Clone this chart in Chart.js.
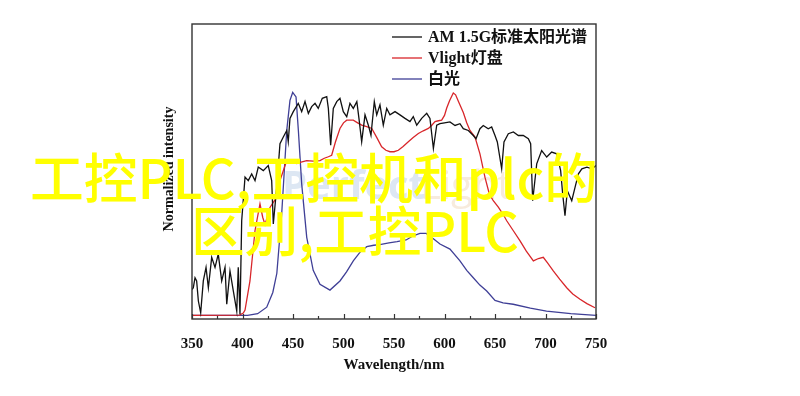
<!DOCTYPE html>
<html lang="zh">
<head>
<meta charset="UTF-8">
<title>AM 1.5G / Vlight / 白光</title>
<script src="https://cdn.jsdelivr.net/npm/chart.js@4.4.0/dist/chart.umd.min.js"></script>
<style>
    html, body { margin: 0; padding: 0; background: #fff; }
    #wrap { width: 800px; height: 396px; position: relative; }
</style>
</head>
<body>
<div id="wrap"><canvas id="spec" width="800" height="396"></canvas></div>
<script>
// wavelengths (nm) and normalized intensity
const amWl = [350, 351.3, 353, 354.6, 356.3, 358.6, 361.2, 363.9, 366.2, 369.5, 372.8, 376, 379.4, 382.7, 384.4, 387.6, 390.9, 394.3, 395.8, 397.5, 399.2, 402.5, 405.7, 409.1, 412.4, 415.6, 420.6, 425.5, 428.9, 430.5, 433.9, 437.1, 440.4, 443.8, 445.3, 447, 450.3, 455.2, 458.6, 461.9, 465.2, 468.5, 471.8, 475, 479, 483.4, 485, 487.3, 489.9, 493.3, 496.5, 499.8, 503.2, 506.4, 509.7, 513.2, 515.3, 518, 521.3, 524.6, 527.2, 530.5, 532.9, 536.1, 539.4, 542.8, 546, 551, 555.9, 560.9, 565.8, 569.1, 572.5, 577.4, 582.4, 585.6, 589, 592.3, 595.5, 600, 605.4, 610.4, 615.3, 618.6, 623.6, 628.5, 631.2, 635.1, 638.4, 643.3, 646.7, 650, 652.3, 656.6, 658.9, 663.2, 668.2, 673.1, 678, 683, 685.3, 687.3, 691.3, 696.2, 701.2, 706.1, 711.1, 715, 717, 719.3, 721.6, 726, 729.3, 732.6, 736, 741, 746, 750];
const amVal = [0.10, 0.106, 0.14, 0.129, 0.061, 0.021, 0.129, 0.175, 0.106, 0.209, 0.175, 0.22, 0.129, 0.175, 0.05, 0.163, 0.095, 0.027, 0.175, 0.016, 0.333, 0.481, 0.469, 0.492, 0.469, 0.515, 0.503, 0.52, 0.469, 0.322, 0.447, 0.594, 0.617, 0.639, 0.601, 0.68, 0.703, 0.731, 0.703, 0.737, 0.697, 0.72, 0.731, 0.714, 0.748, 0.754, 0.714, 0.589, 0.714, 0.737, 0.748, 0.703, 0.686, 0.731, 0.714, 0.737, 0.68, 0.601, 0.692, 0.657, 0.623, 0.737, 0.692, 0.726, 0.657, 0.714, 0.692, 0.703, 0.692, 0.68, 0.669, 0.686, 0.657, 0.68, 0.697, 0.68, 0.578, 0.657, 0.662, 0.665, 0.668, 0.656, 0.662, 0.645, 0.639, 0.622, 0.611, 0.645, 0.656, 0.645, 0.651, 0.622, 0.60, 0.509, 0.60, 0.628, 0.634, 0.622, 0.622, 0.611, 0.594, 0.401, 0.526, 0.571, 0.549, 0.566, 0.56, 0.503, 0.424, 0.35, 0.435, 0.401, 0.447, 0.492, 0.509, 0.515, 0.509, 0.52];

const vlWl = [350, 397, 400.8, 402.5, 407.4, 412.4, 417.3, 420, 422.3, 427.2, 433.9, 437.1, 443.8, 448, 453.7, 458, 463.6, 470, 476.7, 481, 485, 488.3, 492, 496.5, 500, 503.2, 509.7, 514, 518, 523, 528, 533, 537.8, 542, 546, 550, 554.3, 559, 564.2, 569, 574.1, 579, 584, 587, 590.6, 594, 597.2, 600, 602.2, 605, 608.7, 611, 613.5, 616, 618.6, 622, 625.2, 630.2, 635.1, 640.1, 644.4, 648.3, 653.3, 658, 661.6, 668, 674.8, 681, 688, 693, 697.8, 702, 707.7, 714, 721, 727, 734.2, 741, 749];
const vlVal = [0.012, 0.013, 0.02, 0.03, 0.129, 0.30, 0.39, 0.345, 0.32, 0.378, 0.413, 0.469, 0.537, 0.535, 0.527, 0.532, 0.537, 0.535, 0.537, 0.545, 0.55, 0.555, 0.60, 0.646, 0.665, 0.674, 0.674, 0.665, 0.657, 0.652, 0.646, 0.615, 0.584, 0.572, 0.567, 0.567, 0.572, 0.585, 0.601, 0.615, 0.629, 0.638, 0.646, 0.655, 0.669, 0.672, 0.674, 0.69, 0.715, 0.74, 0.766, 0.76, 0.74, 0.72, 0.70, 0.665, 0.639, 0.617, 0.56, 0.48, 0.424, 0.401, 0.379, 0.355, 0.333, 0.30, 0.265, 0.23, 0.197, 0.205, 0.209, 0.19, 0.163, 0.135, 0.106, 0.085, 0.067, 0.052, 0.038];

const wlWl = [350, 405, 415, 424, 430, 434, 438.8, 443.8, 447, 449.7, 453, 455.3, 458.6, 463.6, 470, 476.7, 486.6, 496.5, 503, 509.7, 516, 523, 530, 536, 545, 553, 562, 569, 575.7, 582, 585.6, 589, 595.5, 605.4, 615.3, 622, 628.5, 635, 641.8, 650, 658, 668, 685, 701, 725, 750];
const wlVal = [0.012, 0.012, 0.018, 0.04, 0.09, 0.155, 0.356, 0.639, 0.741, 0.768, 0.753, 0.64, 0.458, 0.277, 0.165, 0.118, 0.098, 0.129, 0.16, 0.197, 0.225, 0.245, 0.25, 0.252, 0.258, 0.262, 0.268, 0.282, 0.29, 0.29, 0.28, 0.272, 0.254, 0.237, 0.197, 0.165, 0.14, 0.115, 0.095, 0.063, 0.055, 0.05, 0.037, 0.027, 0.018, 0.012];

const seriesNames = ['AM 1.5G标准太阳光谱', 'Vlight灯盘', '白光'];
const xTicks = [350, 400, 450, 500, 550, 600, 650, 700, 750];

const serif = "'Liberation Serif', 'Noto Sans CJK SC', serif";
const colors = ['#111111', '#d8262a', '#3f3f96'];

function pts(xs, ys) {
    return xs.map((x, i) => ({ x: x, y: ys[i] }));
}

// box, inside ticks, legend, axis titles, watermark and overlay caption
const decor = {
    id: 'decor',
    beforeDatasetsDraw(chart) {
        const ctx = chart.ctx;
        ctx.save();
        ctx.font = "bold 40px 'Open Sans', sans-serif";
        ctx.textBaseline = 'middle';
        ctx.fillStyle = 'rgba(170, 195, 225, 0.4)';
        ctx.fillText('Perfect', 282, 188);
        ctx.fillStyle = 'rgba(235, 205, 170, 0.4)';
        ctx.font = "40px 'Open Sans', sans-serif";
        ctx.fillText('Light', 420, 188);
        ctx.restore();
    },
    afterDraw(chart) {
        const ctx = chart.ctx;
        const a = chart.chartArea;
        const xs = chart.scales.x;
        ctx.save();

        // frame
        ctx.strokeStyle = '#333';
        ctx.lineWidth = 1.4;
        ctx.strokeRect(a.left, a.top, a.right - a.left, a.bottom - a.top);

        // ticks pointing inward on the bottom axis
        ctx.lineWidth = 1.2;
        for (let v = 350; v <= 750; v += 25) {
            const px = Math.round(xs.getPixelForValue(v)) + 0.5;
            const len = v % 50 === 0 ? 5 : 3;
            ctx.beginPath();
            ctx.moveTo(px, a.bottom);
            ctx.lineTo(px, a.bottom - len);
            ctx.stroke();
        }

        // legend
        const rows = [37, 58, 79];
        ctx.textBaseline = 'middle';
        ctx.font = 'bold 16px ' + serif;
        rows.forEach((y, i) => {
            ctx.strokeStyle = colors[i];
            ctx.lineWidth = 1.3;
            ctx.beginPath();
            ctx.moveTo(392, y);
            ctx.lineTo(422, y);
            ctx.stroke();
            ctx.fillStyle = '#111';
            ctx.fillText(seriesNames[i], 428, y + 1);
        });

        // axis titles
        ctx.fillStyle = '#111';
        ctx.font = 'bold 15px ' + serif;
        ctx.textAlign = 'center';
        ctx.fillText('Wavelength/nm', (a.left + a.right) / 2, 365);
        ctx.save();
        ctx.translate(169, 169);
        ctx.rotate(-Math.PI / 2);
        ctx.font = 'bold 14px ' + serif;
        ctx.fillText('Normalized intensity', 0, 0);
        ctx.restore();

        // big yellow caption on top
        ctx.textAlign = 'left';
        ctx.fillStyle = '#ffff00';
        ctx.font = "500 54px 'Noto Sans CJK SC', sans-serif";
        ctx.fillText('工控PLC,工控机和plc的', 30, 178, 568);
        ctx.fillText('区别,工控PLC', 191, 231, 328);
        ctx.restore();
    }
};

new Chart(document.getElementById('spec'), {
    type: 'line',
    data: {
        datasets: [
            { label: seriesNames[0], data: pts(amWl, amVal), borderColor: colors[0] },
            { label: seriesNames[1], data: pts(vlWl, vlVal), borderColor: colors[1] },
            { label: seriesNames[2], data: pts(wlWl, wlVal), borderColor: colors[2] }
        ]
    },
    options: {
        responsive: false,
        animation: false,
        layout: { padding: { left: 192, right: 204, top: 24, bottom: 0 } },
        elements: {
            point: { radius: 0 },
            line: { borderWidth: 1.3, tension: 0, fill: false }
        },
        plugins: { legend: { display: false }, tooltip: { enabled: false } },
        scales: {
            x: {
                type: 'linear',
                min: 350,
                max: 750,
                afterFit(scale) { scale.height = 396 - 319; },
                afterBuildTicks(scale) { scale.ticks = xTicks.map(v => ({ value: v })); },
                grid: { display: false, drawTicks: false },
                border: { display: false },
                ticks: {
                    autoSkip: false,
                    maxRotation: 0,
                    padding: 16,
                    color: '#111',
                    font: { family: serif, size: 15, weight: 'bold' }
                }
            },
            y: {
                display: false,
                min: 0,
                max: 1
            }
        }
    },
    plugins: [decor]
});
</script>
</body>
</html>
